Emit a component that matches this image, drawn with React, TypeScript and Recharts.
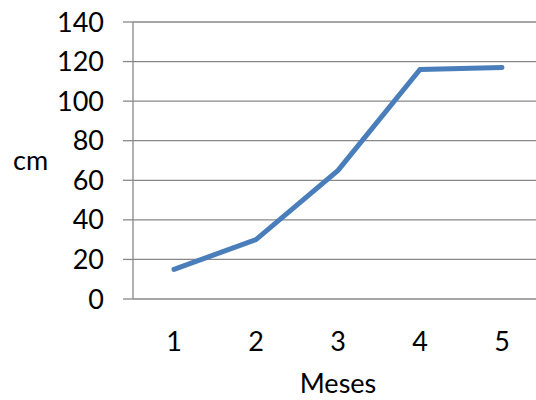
import { LineChart, Line, XAxis, YAxis, CartesianGrid } from 'recharts';

const meses = [1, 2, 3, 4, 5];
const cm = [15, 30, 65, 116, 117];
const yTicks = [0, 20, 40, 60, 80, 100, 120, 140];
const bandTicks = [0.5, 1.5, 2.5, 3.5, 4.5, 5.5];

const data = meses.map((m, i) => ({ mes: m, cm: cm[i] }));

const gray = '#888888';
const font = { fontSize: 27, fill: '#000000', fontFamily: 'Lato, "Open Sans", sans-serif' };

export default function App() {
  return (
    <div style={{ position: 'absolute', left: 0, top: 0, width: 536, height: 400, overflow: 'hidden', background: '#fff' }}>
      <LineChart width={560} height={400} data={data} margin={{ top: 22, right: 17, left: 0, bottom: 0 }}>
        <CartesianGrid vertical={false} stroke={gray} strokeWidth={1.3} xAxisId="main" />
        <XAxis
          xAxisId="grid"
          type="number"
          dataKey="mes"
          domain={[0.5, 5.5]}
          ticks={bandTicks}
          tick={false}
          height={0}
          tickSize={10}
          stroke={gray}
          strokeWidth={1.3}
        />
        <XAxis
          xAxisId="main"
          type="number"
          dataKey="mes"
          domain={[0.5, 5.5]}
          ticks={meses}
          axisLine={false}
          tickLine={false}
          tickSize={0}
          tickMargin={33}
          height={101}
          tick={font}
          label={{ value: 'Meses', position: 'insideBottom', offset: 7, ...font }}
        />
        <YAxis
          domain={[0, 140]}
          ticks={yTicks}
          width={133}
          tickSize={10}
          tickMargin={19}
          stroke={gray}
          strokeWidth={1.3}
          tick={font}
          label={{ value: 'cm', position: 'insideLeft', offset: 13, ...font }}
        />
        <Line
          xAxisId="main"
          type="linear"
          dataKey="cm"
          stroke="#4A7EBB"
          strokeWidth={5}
          strokeLinecap="round"
          dot={false}
          isAnimationActive={false}
        />
      </LineChart>
    </div>
  );
}
